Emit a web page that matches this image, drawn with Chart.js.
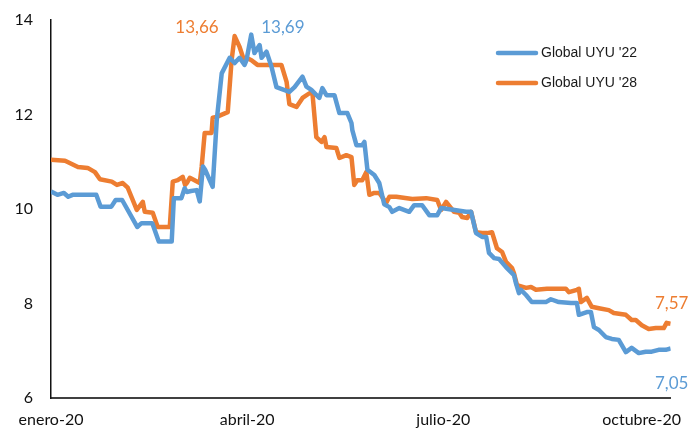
<!DOCTYPE html>
<html>
<head>
<meta charset="utf-8">
<script src="https://cdn.jsdelivr.net/npm/chart.js@4/dist/chart.umd.min.js"></script>
<style>
  html, body { margin: 0; padding: 0; background: #fff; }
  #wrap { width: 694px; height: 432px; position: relative; }
</style>
</head>
<body>
<div id="wrap"><canvas id="chart"></canvas></div>
<script>
// days counted from 1 Jan 2020
const xTickDays = [0, 91, 182, 274];
const xTickLabels = ["enero-20", "abril-20", "julio-20", "octubre-20"];
const yTicks = [6, 8, 10, 12, 14];

const seriesNames = ["Global UYU '22", "Global UYU '28"];

const days22 = [0, 3, 6, 8, 10, 21, 23, 28, 30, 33, 40, 42, 47, 50, 56, 57, 60.5, 62, 63, 65, 67.6, 69, 70.5, 71.5, 75, 76.9, 79.2, 82.9, 85.2, 87.5, 89.8, 90.7, 92.9, 94.4, 96.8, 97.7, 100, 102.3, 104.6, 110.6, 113, 116.7, 118.5, 120.8, 124.5, 125.9, 127.8, 131.5, 133.8, 137.5, 139.4, 139.8, 141.7, 144.4, 145.4, 146.8, 150, 152.3, 154.6, 157, 158.3, 161.6, 166.2, 168.5, 172.2, 175.5, 179.2, 181, 192.6, 194.9, 197.2, 200, 201.9, 203.2, 205.6, 207.9, 211.1, 214.8, 215.7, 217.1, 218, 220.4, 223.1, 229.6, 231.9, 235.6, 241.2, 244, 244.9, 248.6, 250.5, 251.9, 254.2, 257.4, 260.2, 263.4, 266.7, 269.4, 272.7, 275.9, 278.7, 281.9, 285.2, 287.5];
const values22 = [10.37, 10.30, 10.34, 10.26, 10.30, 10.30, 10.05, 10.05, 10.19, 10.19, 9.62, 9.70, 9.70, 9.31, 9.31, 10.23, 10.23, 10.44, 10.36, 10.38, 10.40, 10.16, 10.90, 10.83, 10.47, 11.88, 12.87, 13.20, 13.09, 13.20, 13.05, 13.15, 13.69, 13.30, 13.47, 13.20, 13.33, 13.01, 12.58, 12.48, 12.58, 12.80, 12.59, 12.52, 12.35, 12.56, 12.41, 12.41, 12.03, 12.03, 11.82, 11.67, 11.35, 11.35, 11.42, 10.83, 10.72, 10.55, 10.10, 10.04, 9.94, 10.02, 9.94, 10.08, 10.08, 9.87, 9.87, 10.02, 9.94, 9.94, 9.49, 9.41, 9.41, 9.07, 8.96, 8.94, 8.77, 8.60, 8.43, 8.22, 8.29, 8.18, 8.03, 8.03, 8.09, 8.03, 8.01, 8.01, 7.76, 7.82, 7.82, 7.50, 7.44, 7.29, 7.25, 7.23, 6.97, 7.06, 6.95, 6.98, 6.98, 7.02, 7.02, 7.05];

const days28 = [0, 6.5, 12.5, 17, 20.4, 22.7, 28.2, 30.6, 33.3, 35.6, 39.8, 42.6, 43.5, 47.2, 49.5, 55.1, 56.5, 58.8, 61.1, 62.2, 63, 64.4, 69, 69.9, 71.3, 74.5, 75, 76.9, 82, 83.8, 85.2, 87.5, 89.8, 90.7, 93, 95.8, 106.9, 109.3, 110.6, 113.9, 116.7, 119.9, 121.3, 123.1, 125.5, 126.9, 127.8, 132.4, 133.8, 137, 139.4, 140.7, 142.1, 144.4, 146.3, 147.7, 150, 152.3, 154.6, 155.5, 157, 160.2, 167.6, 174.1, 179.2, 181, 183.3, 187, 189.4, 190.7, 193.1, 194.9, 197.2, 200, 202.3, 204.6, 206.9, 209.3, 211.1, 213.9, 214.8, 216.2, 220.4, 222.7, 225, 230.1, 238.9, 240.3, 244, 244.9, 245.8, 248.6, 250.9, 254.2, 258.8, 261.1, 266.7, 269.4, 271.3, 274.1, 277.3, 280.6, 284.3, 285.6, 287.5];
const values28 = [11.04, 11.02, 10.89, 10.87, 10.78, 10.63, 10.58, 10.51, 10.55, 10.45, 9.98, 10.15, 9.94, 9.92, 9.62, 9.62, 10.58, 10.61, 10.68, 10.51, 10.55, 10.66, 10.55, 10.89, 11.61, 11.61, 11.93, 11.95, 12.05, 13.15, 13.66, 13.43, 13.11, 13.20, 13.15, 13.05, 13.05, 12.69, 12.22, 12.16, 12.35, 12.45, 12.45, 11.52, 11.42, 11.52, 11.31, 11.29, 11.08, 11.14, 11.10, 10.51, 10.61, 10.61, 10.78, 10.30, 10.34, 10.34, 10.19, 10.13, 10.26, 10.26, 10.21, 10.23, 10.19, 9.98, 10.15, 9.94, 9.92, 9.83, 9.81, 9.94, 9.51, 9.49, 9.49, 9.51, 9.17, 9.09, 8.88, 8.75, 8.64, 8.39, 8.33, 8.35, 8.29, 8.31, 8.31, 8.24, 8.29, 8.31, 8.03, 8.12, 7.93, 7.90, 7.86, 7.80, 7.76, 7.65, 7.65, 7.54, 7.46, 7.48, 7.48, 7.59, 7.57];

const BLUE = "#5b9bd5";
const ORANGE = "#ed7d31";
const LABEL_FONT = "17px Lato, 'Open Sans', sans-serif";

function toPoints(xs, ys) {
  return xs.map((x, i) => ({ x: x, y: ys[i] }));
}

function fmt(v) {
  return v.toFixed(2).replace(".", ",");
}

// peak and last value labels, placed next to their points
const valueLabels = {
  id: "valueLabels",
  afterDatasetsDraw(chart) {
    const ctx = chart.ctx;
    const xs = chart.scales.x;
    const ys = chart.scales.y;
    ctx.save();
    ctx.font = LABEL_FONT;
    ctx.textBaseline = "middle";
    chart.data.datasets.forEach((ds, i) => {
      const pts = ds.data;
      let peak = pts[0];
      pts.forEach((p) => { if (p.y > peak.y) peak = p; });
      const last = pts[pts.length - 1];
      ctx.fillStyle = ds.borderColor;

      const px = xs.getPixelForValue(peak.x);
      ctx.textAlign = i === 0 ? "left" : "right";
      ctx.fillText(fmt(peak.y), i === 0 ? px + 10 : px - 16, 28);

      const lx = xs.getPixelForValue(last.x);
      const ly = ys.getPixelForValue(last.y);
      ctx.textAlign = "center";
      ctx.fillText(fmt(last.y), lx + 1, i === 0 ? ly + 35 : ly - 20);
    });
    ctx.restore();
  },
};

const sideLegend = {
  id: "sideLegend",
  afterDraw(chart) {
    const ctx = chart.ctx;
    ctx.save();
    ctx.font = "14px 'Liberation Sans', 'Noto Sans', sans-serif";
    ctx.textBaseline = "middle";
    ctx.textAlign = "left";
    chart.data.datasets.forEach((ds, i) => {
      const y = 53 + i * 30;
      ctx.strokeStyle = ds.borderColor;
      ctx.lineWidth = 4.5;
      ctx.lineCap = "round";
      ctx.beginPath();
      ctx.moveTo(498, y);
      ctx.lineTo(536, y);
      ctx.stroke();
      ctx.fillStyle = "#1a1a1a";
      ctx.fillText(ds.label, 541, y);
    });
    ctx.restore();
  },
};

new Chart(document.getElementById("chart"), {
  type: "line",
  data: {
    datasets: [
      {
        label: seriesNames[0],
        data: toPoints(days22, values22),
        borderColor: BLUE,
        borderWidth: 4.5,
        pointRadius: 0,
        tension: 0,
        borderJoinStyle: "round",
      },
      {
        label: seriesNames[1],
        data: toPoints(days28, values28),
        borderColor: ORANGE,
        borderWidth: 4.5,
        pointRadius: 0,
        tension: 0,
        borderJoinStyle: "round",
      },
    ],
  },
  options: {
    responsive: true,
    maintainAspectRatio: false,
    animation: false,
    layout: { padding: { top: 20, right: 22, left: 0, bottom: 0 } },
    plugins: {
      legend: { display: false },
      tooltip: { enabled: false },
    },
    scales: {
      x: {
        type: "linear",
        min: 0,
        max: 287.5,
        afterBuildTicks: (scale) => {
          scale.ticks = xTickDays.map((v) => ({ value: v }));
        },
        afterFit: (scale) => { scale.height = 34; },
        ticks: {
          autoSkip: false,
          maxRotation: 0,
          padding: 12,
          color: "#111",
          font: { family: "Lato, 'Open Sans', sans-serif", size: 16 },
          callback: (v) => xTickLabels[xTickDays.indexOf(v)],
        },
        grid: { display: false, drawTicks: false },
        border: { display: true, color: "#404040", width: 2 },
      },
      y: {
        min: 6,
        max: 14,
        afterBuildTicks: (scale) => {
          scale.ticks = yTicks.map((v) => ({ value: v }));
        },
        afterFit: (scale) => {
          scale.width = 51;
          scale.paddingTop = 0;
          scale.paddingBottom = 0;
        },
        ticks: {
          padding: 18,
          color: "#111",
          font: { family: "Lato, 'Open Sans', sans-serif", size: 16 },
        },
        grid: { display: false, drawTicks: false },
        border: { display: true, color: "#111", width: 1.5 },
      },
    },
  },
  plugins: [valueLabels, sideLegend],
});
</script>
</body>
</html>
